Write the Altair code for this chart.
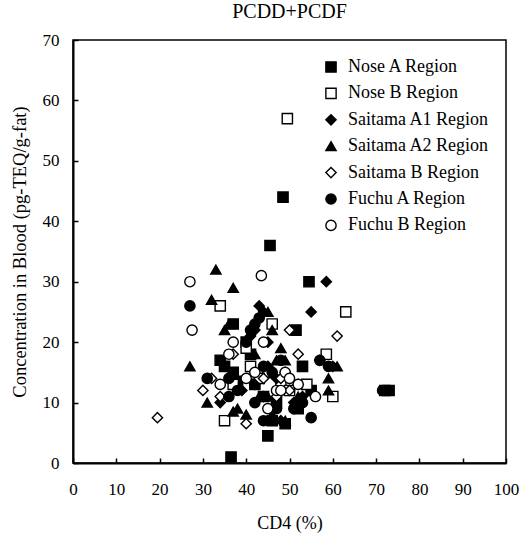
import altair as alt
import pandas as pd

regions = ["Nose A Region", "Nose B Region", "Saitama A1 Region", "Saitama A2 Region",
           "Saitama B Region", "Fuchu A Region", "Fuchu B Region"]
shapes = ["square", "square", "diamond", "triangle-up", "diamond", "circle", "circle"]
fills = ["black", "white", "black", "black", "white", "black", "white"]
strokes = ["black"] * 7

nose_a_x = [48.5, 45.5, 54.5, 37, 36.5, 51.5, 41, 34, 35, 37, 53, 72, 73, 45, 46, 49, 55, 38, 40, 44, 52, 47, 42]
nose_a_y = [44, 36, 30, 23, 1, 22, 18, 17, 16, 15, 16, 12, 12, 4.5, 7, 6.5, 12, 13.5, 20, 11, 9, 10, 13]

nose_b_x = [49.5, 63, 34, 46, 58.5, 60, 35, 40, 48, 50, 54, 45, 37, 41, 43]
nose_b_y = [57, 25, 26, 23, 18, 11, 7, 19, 13, 12, 13, 15, 13, 16, 14]

sa1_x = [58.5, 55, 43, 44, 45, 42, 41, 34, 39, 42, 45, 47, 49, 51, 48, 57, 60, 44, 53]
sa1_y = [30, 25, 26, 25, 20, 22, 21, 10, 12, 13, 16, 14, 15, 10, 7, 17, 16, 11, 11]

sa2_x = [33, 37, 32, 35, 36, 27, 31, 37, 38, 40, 45, 46, 47, 48, 49, 61, 59, 59, 43, 45, 52, 46, 49, 42]
sa2_y = [32, 29, 27, 22, 23, 16, 10, 8.5, 9, 8, 25, 22, 17, 19, 17, 16, 14, 12, 11, 11, 11, 8, 7, 18]

sb_x = [19.5, 30, 32, 34, 40, 46, 50, 52, 61, 44, 48, 50, 47, 52, 37]
sb_y = [7.5, 12, 14, 11, 6.5, 9, 22, 18, 21, 14, 14, 12, 11, 13, 18]

fa_x = [27, 31, 36, 40, 41, 42, 43, 44, 46, 48, 42, 44, 51, 53, 57, 59, 71.5, 36, 38, 47, 55]
fa_y = [26, 14, 14, 20, 22, 23, 24, 16, 15, 17, 10, 7, 9, 10, 17, 16, 12, 11, 12, 9, 7.5]

fb_x = [27, 27.5, 43.5, 36, 37, 44, 47, 48, 49, 50, 52, 40, 42, 45, 56, 34]
fb_y = [30, 22, 31, 18, 20, 20, 12, 12, 15, 14, 13, 14, 15, 9, 11, 13]

series = [(nose_a_x, nose_a_y), (nose_b_x, nose_b_y), (sa1_x, sa1_y), (sa2_x, sa2_y),
          (sb_x, sb_y), (fa_x, fa_y), (fb_x, fb_y)]

rows = []
for name, (xs, ys) in zip(regions, series):
    for xv, yv in zip(xs, ys):
        rows.append({"Region": name, "CD4": xv, "Conc": yv})
df = pd.DataFrame(rows)

FONT = "Liberation Serif"
W, H = 433, 423
MSIZE = 105

x_scale = alt.Scale(domain=[0, 100], nice=False)
y_scale = alt.Scale(domain=[0, 70], nice=False)

legend_kw = dict(
    title=None, orient="none", legendX=249, legendY=18,
    labelFont=FONT, labelFontSize=18, labelColor="black",
    symbolSize=MSIZE, symbolStrokeColor="black", symbolStrokeWidth=1.4,
    rowPadding=8.4, labelOffset=8,
)

points = alt.Chart(df).mark_point(filled=False, strokeWidth=1.4, size=MSIZE, opacity=1).encode(
    x=alt.X("CD4:Q", scale=x_scale,
            axis=alt.Axis(title="CD4 (%)", values=list(range(0, 101, 10)), ticks=False,
                          labelFlush=False, labelOverlap=False,
                          labelPadding=18, titlePadding=17, domainColor="black", domainWidth=2,
                          labelFontSize=17, titleFontSize=18, labelFont=FONT, titleFont=FONT,
                          titleFontWeight="normal", labelColor="black", titleColor="black", grid=False)),
    y=alt.Y("Conc:Q", scale=y_scale,
            axis=alt.Axis(title="Concentration in Blood (pg-TEQ/g-fat)", values=list(range(0, 71, 10)),
                          ticks=False, labelFlush=False, labelOverlap=False,
                          labelPadding=14, titlePadding=13, domainColor="black", domainWidth=2,
                          labelFontSize=17, titleFontSize=18.5, labelFont=FONT, titleFont=FONT,
                          titleFontWeight="normal", labelColor="black", titleColor="black", grid=False)),
    shape=alt.Shape("Region:N", scale=alt.Scale(domain=regions, range=shapes), legend=alt.Legend(**legend_kw)),
    fill=alt.Fill("Region:N", scale=alt.Scale(domain=regions, range=fills), legend=alt.Legend(**legend_kw)),
    stroke=alt.Stroke("Region:N", scale=alt.Scale(domain=regions, range=strokes), legend=alt.Legend(**legend_kw)),
)

ticks_layer = alt.Chart(df).mark_point(opacity=0).encode(
    x=alt.X("CD4:Q", scale=x_scale,
            axis=alt.Axis(orient="top", offset=-H, labels=False, title=None, domain=False,
                          values=list(range(0, 101, 10)), tickSize=5, tickColor="black", tickWidth=1.5, grid=False)),
    y=alt.Y("Conc:Q", scale=y_scale,
            axis=alt.Axis(orient="right", offset=-W, labels=False, title=None, domain=False,
                          values=list(range(0, 71, 10)), tickSize=5, tickColor="black", tickWidth=1.5, grid=False)),
)

chart = alt.layer(points, ticks_layer).resolve_axis(x="independent", y="independent").properties(
    width=W, height=H,
    title=alt.TitleParams("PCDD+PCDF", font=FONT, fontSize=20, fontWeight="normal", color="black", offset=9),
    autosize=alt.AutoSizeParams(type="none"),
    padding={"left": 73, "top": 40, "right": 21, "bottom": 80},
    background="white",
).configure_view(stroke="black", strokeWidth=1.5)

chart.save("out.html", embed_options={"renderer": "svg", "actions": False})
